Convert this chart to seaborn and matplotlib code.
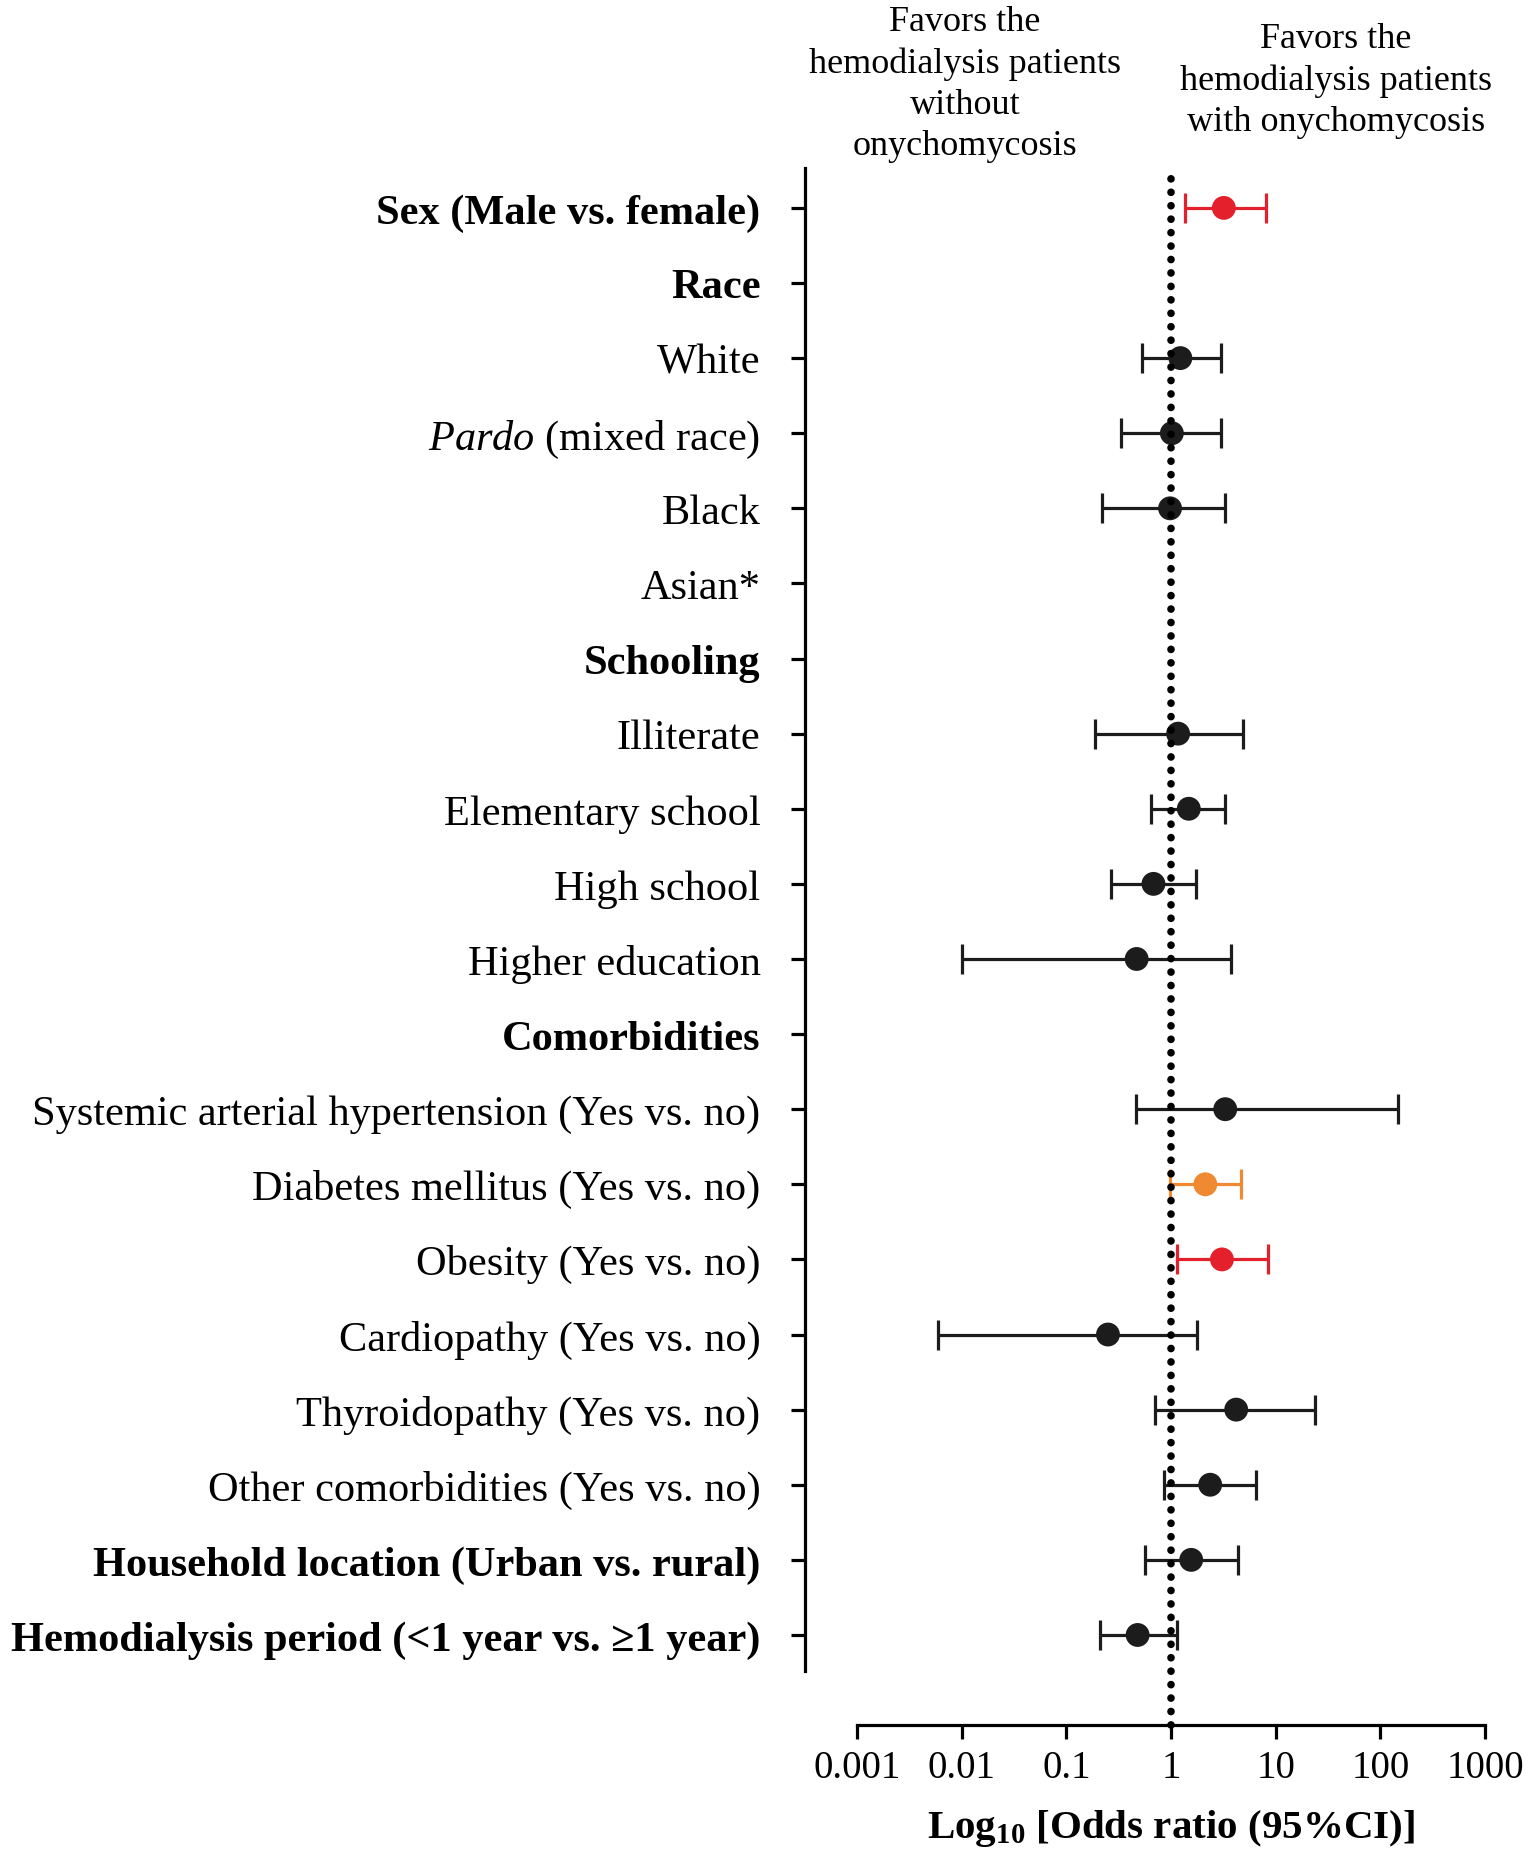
import numpy as np
import pandas as pd
import matplotlib
matplotlib.use("Agg")
import matplotlib.pyplot as plt
import seaborn as sns

# labels top to bottom
labels = [
    "Sex (Male vs. female)", "Race", "White", r"$\mathit{Pardo}$ (mixed race)", "Black",
    "Asian*", "Schooling", "Illiterate", "Elementary school", "High school",
    "Higher education", "Comorbidities", "Systemic arterial hypertension (Yes vs. no)",
    "Diabetes mellitus (Yes vs. no)", "Obesity (Yes vs. no)", "Cardiopathy (Yes vs. no)",
    "Thyroidopathy (Yes vs. no)", "Other comorbidities (Yes vs. no)",
    "Household location (Urban vs. rural)", "Hemodialysis period (<1 year vs. \u22651 year)",
]
bold_rows = [0, 1, 6, 11, 18, 19]

# odds ratios and 95% CI (nan = header / not estimable)
odds = [3.2, np.nan, 1.23, 1.02, 0.98, np.nan, np.nan, 1.17, 1.48, 0.68,
        0.47, np.nan, 3.3, 2.13, 3.07, 0.25, 4.2, 2.37, 1.56, 0.48]
ci_low = [1.37, np.nan, 0.53, 0.335, 0.22, np.nan, np.nan, 0.19, 0.64, 0.265,
          0.01, np.nan, 0.46, 0.97, 1.14, 0.006, 0.71, 0.86, 0.56, 0.21]
ci_high = [8.05, np.nan, 2.99, 2.99, 3.3, np.nan, np.nan, 4.9, 3.3, 1.73,
           3.78, np.nan, 148, 4.66, 8.5, 1.78, 24, 6.5, 4.4, 1.14]
signif = ["sig", "", "ns", "ns", "ns", "", "", "ns", "ns", "ns",
          "ns", "", "ns", "border", "sig", "ns", "ns", "ns", "ns", "ns"]
colors = {"sig": "#e3202b", "border": "#ef8a33", "ns": "#1c1c1c"}

xticks = [0.001, 0.01, 0.1, 1, 10, 100, 1000]
xticklabels = ["0.001", "0.01", "0.1", "1", "10", "100", "1000"]

df = pd.DataFrame({"label": labels, "pos": np.arange(len(labels)), "odds": odds,
                   "lo": ci_low, "hi": ci_high, "sig": signif})

sns.set_theme(style="ticks")
plt.rcParams["font.family"] = ["Liberation Serif", "DejaVu Serif"]
plt.rcParams["mathtext.fontset"] = "custom"
plt.rcParams["mathtext.rm"] = "Liberation Serif"
plt.rcParams["mathtext.it"] = "Liberation Serif:italic"
plt.rcParams["mathtext.bf"] = "Liberation Serif:bold"

fig = plt.figure(figsize=(15.35, 18.58), dpi=100)
ax = fig.add_axes([0.5583, 0.1001, 0.4091, 0.8089])

pts = df.dropna(subset=["odds"])
for key, grp in pts.groupby("sig"):
    ax.errorbar(grp["odds"], grp["pos"],
                xerr=[grp["odds"] - grp["lo"], grp["hi"] - grp["odds"]],
                fmt="none", ecolor=colors[key], elinewidth=2.3, capsize=10.5,
                capthick=2.3, zorder=2)
sns.scatterplot(data=pts, x="odds", y="pos", hue="sig", palette=colors, s=295,
                linewidth=0, legend=False, ax=ax, zorder=3)

ax.axvline(1, ymin=-0.036, ymax=1.0, color="black", lw=5.5,
           linestyle=(0, (0.01, 1.75)), dash_capstyle="round", clip_on=False, zorder=4)

# spines first: moving them resets the tick labels
sns.despine(ax=ax)
ax.spines["left"].set_position(("outward", 37.4))
ax.spines["bottom"].set_position(("outward", 38.9))
for s in ["left", "bottom"]:
    ax.spines[s].set_linewidth(2.3)
    ax.spines[s].set_color("black")

ax.set_xscale("log")
ax.set_xlim(0.001, 1000)
ax.set_ylim(19.48, -0.53)
ax.set_xticks(xticks)
ax.set_xticklabels(xticklabels)
ax.minorticks_off()
ax.set_yticks(df["pos"])
ax.set_yticklabels(labels)
ax.tick_params(axis="y", length=10, width=2.3, pad=22, color="black", labelsize=30.5,
               labelcolor="black")
ax.tick_params(axis="x", length=10, width=2.3, pad=7, color="black", labelsize=28,
               labelcolor="black")
for i in bold_rows:
    ax.get_yticklabels()[i].set_fontweight("bold")
ax.set_xlabel(r"Log$_{\mathbf{10}}$ [Odds ratio (95%CI)]", fontsize=29.5,
              fontweight="bold", labelpad=15.5, color="black")
ax.set_ylabel("")

fig.text(0.6287, 0.9545, "Favors the\nhemodialysis patients\nwithout\nonychomycosis",
         ha="center", va="center", fontsize=26, linespacing=1.32, color="black")
fig.text(0.8704, 0.9565, "Favors the\nhemodialysis patients\nwith onychomycosis",
         ha="center", va="center", fontsize=26, linespacing=1.32, color="black")

fig.savefig("out.png", dpi=100)
